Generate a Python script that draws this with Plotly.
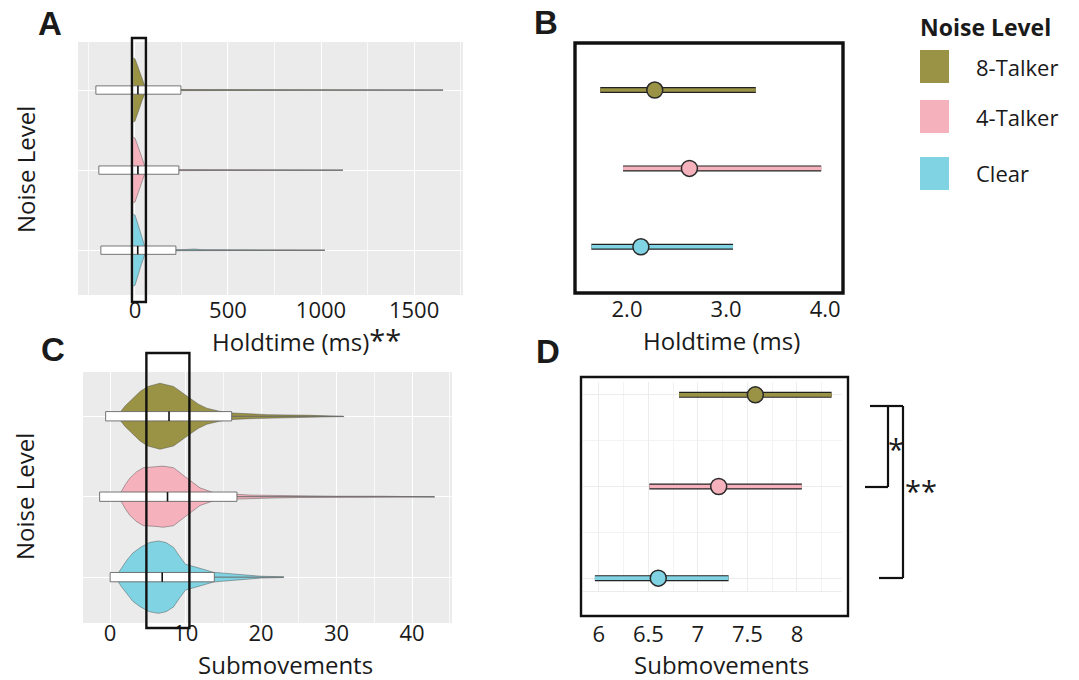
import plotly.graph_objects as go

W, H = 1079, 680

# ---------------- data ----------------
groups = ["Clear", "4-Talker", "8-Talker"]
group_pos = [1, 2, 3]
group_colors = ["#80d3e2", "#f5b2bd", "#9a9345"]

# Panel A: holdtime (ms) violin profiles (value, half-width)
holdA_clear_x = [-9, 0, 10, 20, 30, 40, 50, 58, 80, 250, 320, 360, 600, 1021]
holdA_clear_w = [0.45, 0.44, 0.37, 0.29, 0.21, 0.14, 0.07, 0.02, 0.008, 0.006, 0.014, 0.006, 0.004, 0.002]
holdA_4t_x = [-9, 0, 10, 20, 30, 40, 50, 58, 80, 300, 500, 1118]
holdA_4t_w = [0.41, 0.40, 0.34, 0.27, 0.20, 0.13, 0.06, 0.02, 0.008, 0.005, 0.004, 0.002]
holdA_8t_x = [-9, 0, 10, 20, 30, 40, 50, 58, 80, 300, 560, 1000, 1656]
holdA_8t_w = [0.40, 0.39, 0.33, 0.26, 0.19, 0.12, 0.06, 0.02, 0.008, 0.006, 0.004, 0.003, 0.002]

# Panel A: box statistics
holdA_q1 = [-183, -194, -210]
holdA_med = [15, 16, 16]
holdA_q3 = [220, 236, 247]
holdA_max = [1021, 1118, 1656]
holdA_window = [-16, 59]

# Panel B: mean and interval of holdtime
holdB_mean = [2.14, 2.63, 2.28]
holdB_lo = [1.64, 1.96, 1.73]
holdB_hi = [3.07, 3.96, 3.30]

# Panel C: submovements violin profiles
subC_clear_x = [0.7, 1.5, 2.2, 3, 4.0, 5.2, 6.4, 7.4, 8.4, 9.2, 10, 11.9, 13.7, 16.3, 18, 19.9, 23]
subC_clear_w = [0, 0.12, 0.21, 0.30, 0.37, 0.43, 0.45, 0.43, 0.37, 0.26, 0.16, 0.11, 0.06, 0.04, 0.025, 0.012, 0.004]
subC_4t_x = [1.1, 2, 2.6, 3.5, 4.4, 6.2, 7.0, 8.4, 9.3, 10.2, 11.9, 13.7, 16.8, 18.5, 21.6, 25, 30, 36, 43]
subC_4t_w = [0, 0.15, 0.23, 0.31, 0.36, 0.37, 0.38, 0.36, 0.30, 0.23, 0.11, 0.05, 0.03, 0.02, 0.016, 0.01, 0.006, 0.006, 0.003]
subC_8t_x = [0.9, 2, 3, 4, 5, 6.6, 8.4, 9.5, 10.6, 11.7, 12.8, 14.6, 16.3, 18.5, 20.8, 26.5, 31]
subC_8t_w = [0, 0.13, 0.22, 0.31, 0.37, 0.41, 0.37, 0.30, 0.22, 0.15, 0.10, 0.06, 0.04, 0.03, 0.02, 0.012, 0.004]

# Panel C: box statistics
subC_q1 = [0.0, -1.4, -0.6]
subC_med = [6.9, 7.6, 7.8]
subC_q3 = [13.8, 16.8, 16.1]
subC_max = [23, 43, 30.9]
subC_window = [4.8, 10.5]

# Panel D: mean and interval of submovements
subD_mean = [6.60, 7.21, 7.58]
subD_lo = [5.96, 6.51, 6.81]
subD_hi = [7.31, 8.05, 8.35]

# ---------------- helpers ----------------
FONT = "Open Sans"
TXT = "#1a1a1a"


def fx(p):
    return p / W


def fy(p):
    return 1 - p / H


fig = go.Figure()

violinsA = [(holdA_clear_x, holdA_clear_w), (holdA_4t_x, holdA_4t_w), (holdA_8t_x, holdA_8t_w)]
violinsC = [(subC_clear_x, subC_clear_w), (subC_4t_x, subC_4t_w), (subC_8t_x, subC_8t_w)]


def add_violin_box(xs_ws, q1, med, q3, mx, xa, ya, bh):
    for i, (xs, ws) in enumerate(xs_ws):
        p = group_pos[i]
        x = list(xs) + list(xs[::-1])
        y = [p + w for w in ws] + [p - w for w in ws[::-1]]
        fig.add_trace(go.Scatter(x=x, y=y, fill="toself", fillcolor=group_colors[i],
                                 mode="lines", line=dict(color="rgba(70,70,70,0.55)", width=0.8),
                                 xaxis=xa, yaxis=ya, hoverinfo="skip", showlegend=False))
    for i in range(3):
        p = group_pos[i]
        fig.add_trace(go.Scatter(x=[q3[i], mx[i]], y=[p, p], mode="lines",
                                 line=dict(color="#6a6a6a", width=1),
                                 xaxis=xa, yaxis=ya, hoverinfo="skip", showlegend=False))
        fig.add_trace(go.Scatter(x=[q1[i], q3[i], q3[i], q1[i], q1[i]],
                                 y=[p - bh, p - bh, p + bh, p + bh, p - bh],
                                 fill="toself", fillcolor="white", mode="lines",
                                 line=dict(color="#666666", width=0.9),
                                 xaxis=xa, yaxis=ya, hoverinfo="skip", showlegend=False))
        fig.add_trace(go.Scatter(x=[med[i], med[i]], y=[p - bh, p + bh], mode="lines",
                                 line=dict(color="#111111", width=1.6),
                                 xaxis=xa, yaxis=ya, hoverinfo="skip", showlegend=False))


def add_intervals(mean, lo, hi, xa, ya):
    for i in range(3):
        p = group_pos[i]
        fig.add_trace(go.Scatter(x=[lo[i], hi[i]], y=[p, p], mode="lines",
                                 line=dict(color="#222222", width=6),
                                 xaxis=xa, yaxis=ya, hoverinfo="skip", showlegend=False))
        fig.add_trace(go.Scatter(x=[lo[i], hi[i]], y=[p, p], mode="lines",
                                 line=dict(color=group_colors[i], width=3.6),
                                 xaxis=xa, yaxis=ya, hoverinfo="skip", showlegend=False))
        fig.add_trace(go.Scatter(x=[mean[i]], y=[p], mode="markers",
                                 marker=dict(size=16, color=group_colors[i],
                                             line=dict(color="#2a2a2a", width=1.5)),
                                 xaxis=xa, yaxis=ya, hoverinfo="skip", showlegend=False))


add_violin_box(violinsA, holdA_q1, holdA_med, holdA_q3, holdA_max, "x", "y", 0.052)
add_intervals(holdB_mean, holdB_lo, holdB_hi, "x2", "y2")
add_violin_box(violinsC, subC_q1, subC_med, subC_q3, subC_max, "x3", "y3", 0.058)
add_intervals(subD_mean, subD_lo, subD_hi, "x4", "y4")

tickfont = dict(family=FONT, size=22, color=TXT)


def xax(dom_px, rng, dtick, minor=None, grid=True, gridcolor="white", ticklen=0, standoff=0, fmt=None):
    d = dict(domain=[fx(dom_px[0]), fx(dom_px[1])], range=rng, dtick=dtick, tick0=0,
             showgrid=grid, gridcolor=gridcolor, gridwidth=1.2, zeroline=False,
             ticks="outside", ticklen=ticklen, tickcolor="rgba(0,0,0,0)",
             ticklabelstandoff=standoff,
             tickfont=tickfont, showline=False, fixedrange=True)
    if minor:
        d["minor"] = minor
    if fmt:
        d["tickformat"] = fmt
    return d


def yax(dom_px, rng, grid=True, gridcolor="white", minor=None):
    d = dict(domain=[fy(dom_px[1]), fy(dom_px[0])], range=rng, tickvals=[1, 2, 3],
             showticklabels=False, ticks="", showgrid=grid, gridcolor=gridcolor,
             gridwidth=1.2, zeroline=False, showline=False, fixedrange=True)
    if minor:
        d["minor"] = minor
    return d


fig.update_layout(
    width=W, height=H, margin=dict(l=0, r=0, t=0, b=0),
    paper_bgcolor="white", plot_bgcolor="white", showlegend=False,
    font=dict(family=FONT, color=TXT),
    xaxis=xax([78, 463], [-306, 1763], 500, ticklen=0, standoff=-4,
              minor=dict(dtick=250, tick0=0, showgrid=True, gridcolor="rgba(255,255,255,0.7)", gridwidth=0.6)),
    yaxis=yax([42, 295], [0.44, 3.6]),
    xaxis2=xax([575, 843], [1.475, 4.18], 1, grid=False, ticklen=0, standoff=-3, fmt=".1f"),
    yaxis2=yax([43, 293], [0.41, 3.6], grid=False),
    xaxis3=xax([83, 452], [-3.6, 45.3], 10, ticklen=0, standoff=-9,
               minor=dict(dtick=5, tick0=0, showgrid=True, gridcolor="rgba(255,255,255,0.7)", gridwidth=0.6)),
    yaxis3=yax([372, 623], [0.43, 3.55]),
    xaxis4=xax([583, 842], [5.84, 8.455], 0.5, gridcolor="#ececec", ticklen=0, standoff=24,
               minor=dict(dtick=0.25, tick0=0, showgrid=True, gridcolor="#f3f3f3", gridwidth=0.8)),
    yaxis4=yax([382, 591], [0.86, 3.14], gridcolor="#ececec",
               minor=dict(dtick=0.5, tick0=0, showgrid=True, gridcolor="#f3f3f3", gridwidth=0.8)),
)
fig.update_layout(xaxis2=dict(anchor="y2"), yaxis2=dict(anchor="x2"),
                  xaxis3=dict(anchor="y3"), yaxis3=dict(anchor="x3"),
                  xaxis4=dict(anchor="y4", showline=True, linecolor="#ececec", linewidth=1),
                  yaxis4=dict(anchor="x4"))

shapes = []
for xr, yr in [("x", "y"), ("x3", "y3")]:
    shapes.append(dict(type="rect", xref=xr + " domain", yref=yr + " domain", x0=0, x1=1, y0=0, y1=1,
                       fillcolor="#ebebeb", line=dict(width=0), layer="below"))
shapes.append(dict(type="rect", xref="x", yref="paper", x0=holdA_window[0], x1=holdA_window[1],
                   y0=fy(302), y1=fy(38), line=dict(color="#111", width=2.4)))
shapes.append(dict(type="rect", xref="x3", yref="paper", x0=subC_window[0], x1=subC_window[1],
                   y0=fy(628), y1=fy(353), line=dict(color="#111", width=2.4)))
shapes.append(dict(type="rect", xref="paper", yref="paper", x0=fx(575), x1=fx(843), y0=fy(293), y1=fy(43),
                   line=dict(color="#111", width=3.4)))
shapes.append(dict(type="rect", xref="paper", yref="paper", x0=fx(581), x1=fx(848), y0=fy(616), y1=fy(377),
                   line=dict(color="#111", width=2.4)))
br = dict(color="#111", width=2.2)
for (x0, y0, x1, y1) in [(870, 406, 888, 406), (888, 406, 888, 487), (865, 487, 888, 487),
                         (888, 406, 903, 406), (903, 406, 903, 578), (879, 578, 903, 578)]:
    shapes.append(dict(type="line", xref="paper", yref="paper", x0=fx(x0), y0=fy(y0), x1=fx(x1), y1=fy(y1), line=br))
for col, (t, b) in zip([group_colors[2], group_colors[1], group_colors[0]], [(50, 83), (100, 133), (157, 190)]):
    shapes.append(dict(type="rect", xref="paper", yref="paper", x0=fx(920), x1=fx(949), y0=fy(b), y1=fy(t),
                       fillcolor=col, line=dict(width=0)))
fig.update_layout(shapes=shapes)

ann = []


def text(t, x, y, size=24, bold=False, xanchor="center", angle=0, family=FONT):
    ann.append(dict(text=f"<b>{t}</b>" if bold else t, x=fx(x), y=fy(y), xref="paper", yref="paper",
                    showarrow=False, xanchor=xanchor, yanchor="middle", textangle=angle,
                    font=dict(family=family, size=size, color=TXT)))


text("A", 50, 24, 33, True, family="Liberation Sans")
text("B", 546, 23, 33, True, family="Liberation Sans")
text("C", 53, 350, 33, True, family="Liberation Sans")
text("D", 548, 351, 33, True, family="Liberation Sans")
text("Noise Level", 25, 170, 24, angle=-90)
text("Noise Level", 25, 497, 24, angle=-90)
text("Holdtime (ms)<span style='font-size:29px'>**</span>", 306, 339, 24)
text("Holdtime (ms)", 721, 340, 24)
text("Submovements", 285, 664, 24)
text("Submovements", 721, 664, 24)
text("*", 896, 448, 29)
text("**", 921, 490, 29)
text("Noise Level", 918, 27, 23, True, xanchor="left")
text("8-Talker", 974, 67, 22, xanchor="left")
text("4-Talker", 974, 117, 22, xanchor="left")
text("Clear", 974, 173, 22, xanchor="left")
fig.update_layout(annotations=ann)

fig.write_html("out.html", post_script="document.body.style.margin='0';",
               config={"displayModeBar": False})
